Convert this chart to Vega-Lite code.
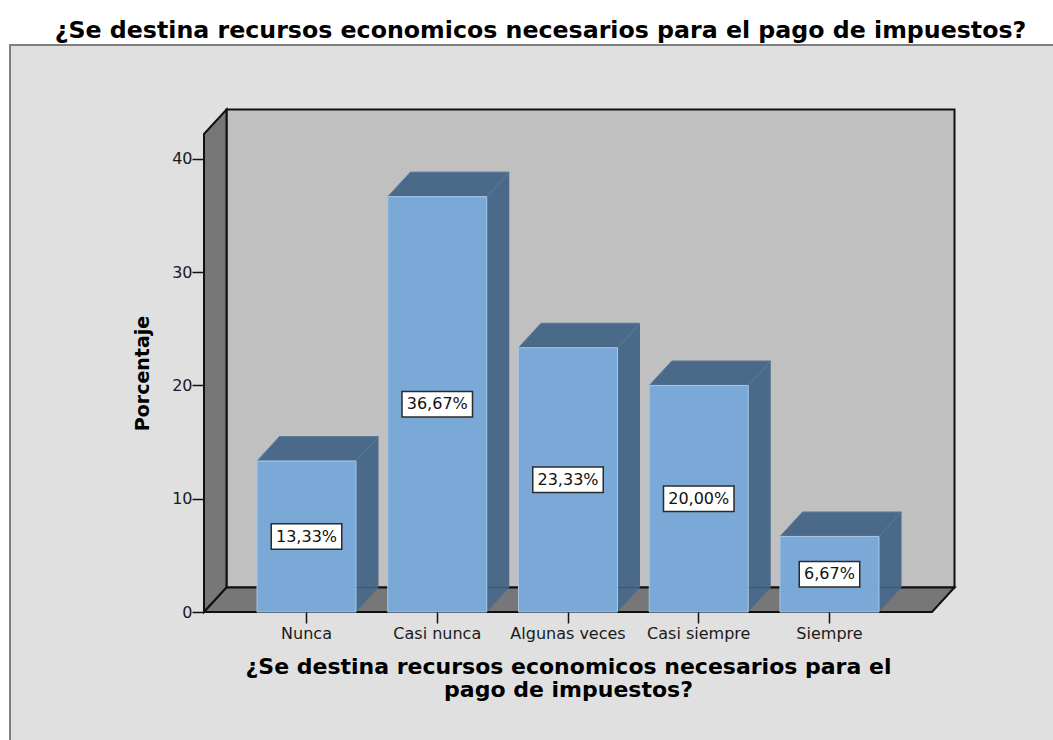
{
  "$schema": "https://vega.github.io/schema/vega-lite/v6.json",
  "width": 728,
  "height": 478,
  "autosize": {"type": "none"},
  "padding": {"left": 204, "top": 134, "right": 121, "bottom": 128},
  "background": "#ffffff",
  "config": {"view": {"stroke": null}, "font": "DejaVu Sans"},
  "title": {
    "text": "¿Se destina recursos economicos necesarios para el pago de impuestos?",
    "font": "DejaVu Sans", "fontSize": 23.7, "fontWeight": "bold", "color": "#000000",
    "anchor": "middle", "frame": "group", "baseline": "alphabetic", "offset": -21, "dx": -27.5, "zindex": 1
  },
  "data": {"values": [
    {"respuesta": "Nunca", "porcentaje": 13.33, "etiqueta": "13,33%"},
    {"respuesta": "Casi nunca", "porcentaje": 36.67, "etiqueta": "36,67%"},
    {"respuesta": "Algunas veces", "porcentaje": 23.33, "etiqueta": "23,33%"},
    {"respuesta": "Casi siempre", "porcentaje": 20.00, "etiqueta": "20,00%"},
    {"respuesta": "Siempre", "porcentaje": 6.67, "etiqueta": "6,67%"}
  ]},
  "encoding": {
    "x": {
      "field": "respuesta", "type": "nominal", "sort": null,
      "scale": {"domain": ["Nunca", "Casi nunca", "Algunas veces", "Casi siempre", "Siempre"], "paddingInner": 0.2428, "paddingOuter": 0.4054, "align": 0.5, "round": false},
      "axis": {
        "title": ["¿Se destina recursos economicos necesarios para el", "pago de impuestos?"],
        "domain": false, "grid": false, "ticks": true, "tickSize": 11, "tickWidth": 1.5, "tickColor": "#111111",
        "labelAngle": 0, "labelFont": "DejaVu Sans", "labelFontSize": 16, "labelColor": "#1a1a1a", "labelPadding": 2,
        "titleFont": "DejaVu Sans", "titleFontSize": 22, "titleFontWeight": "bold", "titleColor": "#000000",
        "titlePadding": 15, "titleLineHeight": 23, "zindex": 1
      }
    }
  },
  "resolve": {"scale": {"y": "independent"}},
  "layer": [
    {
      "encoding": {
        "y": {
          "field": "porcentaje", "type": "quantitative",
          "scale": {"domain": [0, 42.2], "nice": false, "zero": true},
          "axis": {
            "title": "Porcentaje", "values": [0, 10, 20, 30, 40],
            "domain": false, "grid": false, "ticks": true, "tickSize": 12, "tickWidth": 1.5, "tickColor": "#111111",
            "labelFont": "DejaVu Sans", "labelFontSize": 16, "labelColor": "#1a1a1a", "labelPadding": 0,
            "titleFont": "DejaVu Sans", "titleFontSize": 19, "titleFontWeight": "bold", "titleColor": "#000000",
            "titlePadding": 19, "zindex": 1
          }
        }
      },
      "layer": [
        {
          "transform": [{"filter": "datum.respuesta === 'Nunca'"}],
          "mark": {"type": "point", "shape": "M-296.5,140V-567H760V140Z", "size": 4, "filled": true, "fill": "#e0e0e0", "stroke": "#7f7f7f", "strokeWidth": 2, "opacity": 1},
          "encoding": {"y": {"datum": 0, "type": "quantitative"}}
        },
        {
          "transform": [{"filter": "datum.respuesta === 'Nunca'"}],
          "mark": {"type": "point", "shape": "M-80,-24.5V-502.5H648V-24.5Z", "size": 4, "filled": true, "fill": "#c0c0c0", "stroke": "#111111", "strokeWidth": 2, "opacity": 1},
          "encoding": {"y": {"datum": 0, "type": "quantitative"}}
        },
        {
          "transform": [{"filter": "datum.respuesta === 'Nunca'"}],
          "mark": {"type": "point", "shape": "M-102.5,0V-478L-80,-502.5V-24.5Z", "size": 4, "filled": true, "fill": "#777777", "stroke": "#111111", "strokeWidth": 2, "opacity": 1},
          "encoding": {"y": {"datum": 0, "type": "quantitative"}}
        },
        {
          "transform": [{"filter": "datum.respuesta === 'Nunca'"}],
          "mark": {"type": "point", "shape": "M-102.5,0L-80,-24.5H648L625.5,0Z", "size": 4, "filled": true, "fill": "#777777", "stroke": "#111111", "strokeWidth": 2, "opacity": 1},
          "encoding": {"y": {"datum": 0, "type": "quantitative"}}
        },
        {
          "mark": {"type": "bar", "fill": "#4b6a8a", "opacity": 1, "xOffset": 22.5, "x2Offset": 22.5, "yOffset": -24.5, "y2Offset": -24.5}
        },
        {
          "mark": {"type": "point", "shape": "M-49.5,0H49.5L72,-24.5H-27Z", "size": 4, "filled": true, "fill": "#4b6a8a", "stroke": "#5d7d9d", "strokeWidth": 1, "opacity": 1}
        },
        {
          "mark": {"type": "point", "shape": "M49.5,0L72,-24.5H49.5Z", "size": 4, "filled": true, "fill": "#4b6a8a", "opacity": 1},
          "encoding": {"y": {"datum": 0, "type": "quantitative"}}
        },
        {
          "mark": {"type": "bar", "fill": "#7aa8d7", "stroke": "#a8c8ea", "strokeWidth": 1, "opacity": 1}
        }
      ]
    },
    {
      "encoding": {
        "y": {"field": "porcentaje", "type": "quantitative", "axis": null,
              "scale": {"domain": [0, 84.4], "nice": false, "zero": true}}
      },
      "layer": [
        {
          "transform": [{"filter": "length(datum.etiqueta) == 6"}],
          "mark": {"type": "point", "shape": "M-35.25,-12.75H35.25V12.75H-35.25Z", "size": 4, "filled": true, "fill": "#ffffff", "stroke": "#2b2b2b", "strokeWidth": 1.5, "opacity": 1}
        },
        {
          "transform": [{"filter": "length(datum.etiqueta) == 5"}],
          "mark": {"type": "point", "shape": "M-30.25,-12.75H30.25V12.75H-30.25Z", "size": 4, "filled": true, "fill": "#ffffff", "stroke": "#2b2b2b", "strokeWidth": 1.5, "opacity": 1}
        },
        {
          "mark": {"type": "text", "font": "DejaVu Sans", "fontSize": 16, "color": "#111111", "align": "center", "baseline": "middle"},
          "encoding": {"text": {"field": "etiqueta"}}
        }
      ]
    }
  ]
}
